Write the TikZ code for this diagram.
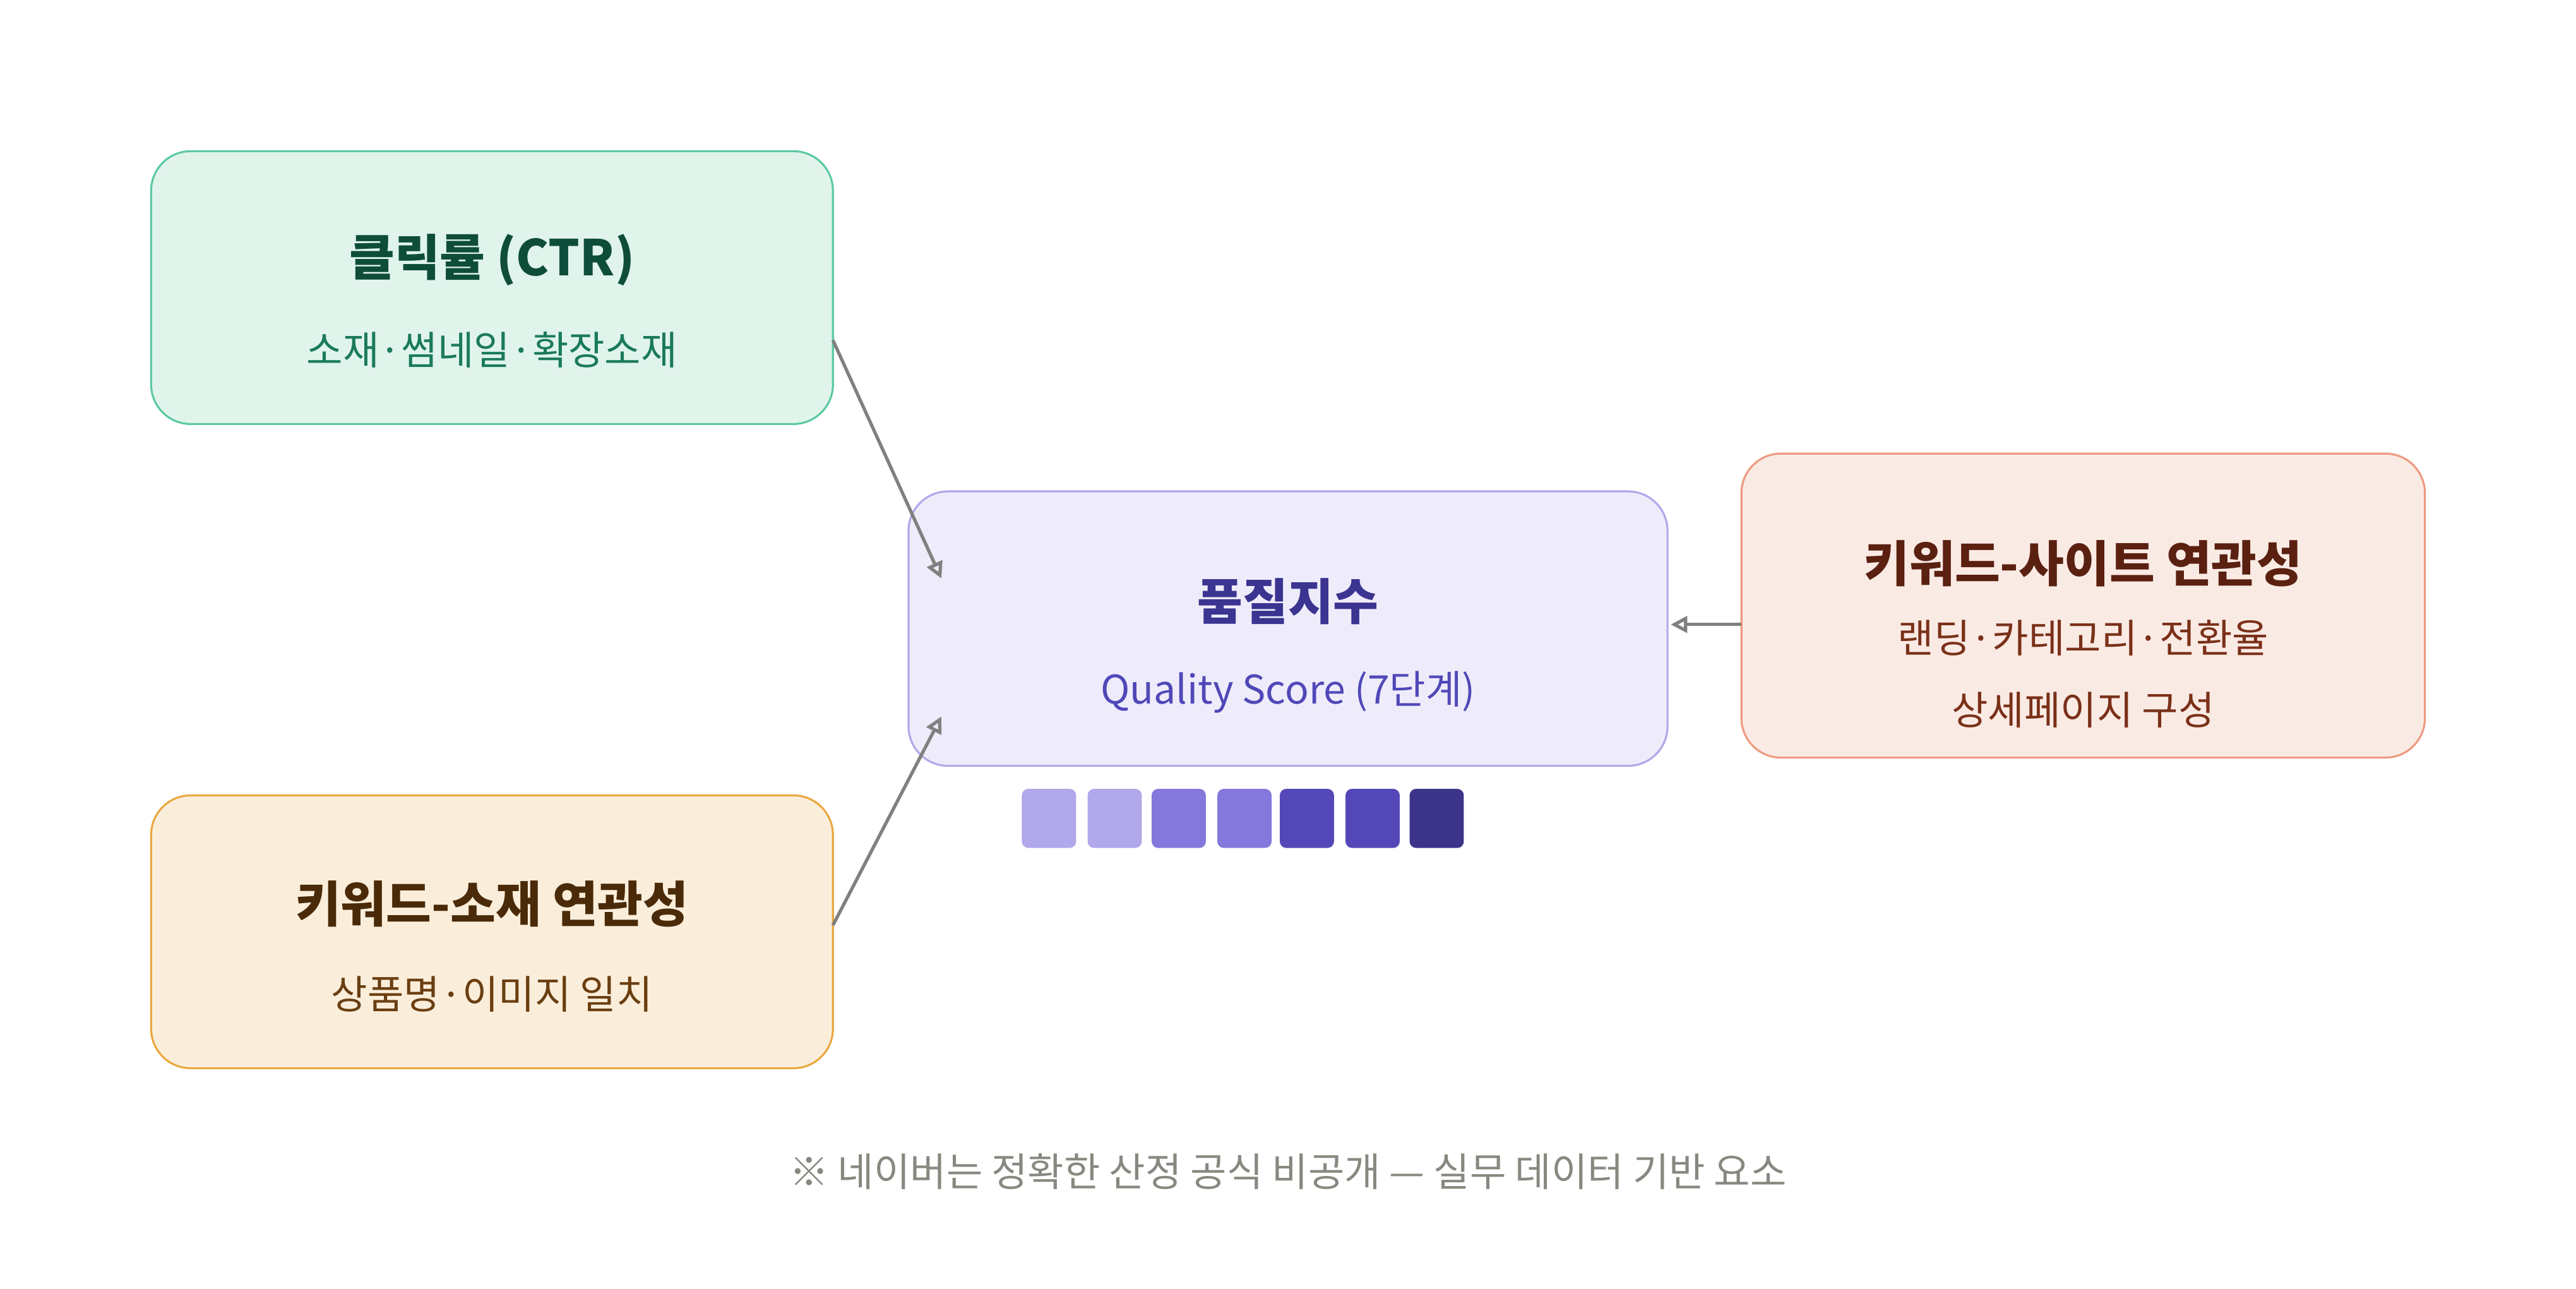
\documentclass[tikz,border=0pt]{standalone}
\usepackage{fontspec}
\setmainfont{Noto Sans CJK KR}
\usetikzlibrary{arrows.meta}
\definecolor{gF}{HTML}{E0F4EC}\definecolor{gD}{HTML}{5CC9A0}\definecolor{gT}{HTML}{0E4D3A}\definecolor{gS}{HTML}{1A7A5A}
\definecolor{cF}{HTML}{EEECFB}\definecolor{cD}{HTML}{B0A8E8}\definecolor{cT}{HTML}{3B3490}\definecolor{cS}{HTML}{5048B8}
\definecolor{rF}{HTML}{FAEAE4}\definecolor{rD}{HTML}{EE9A80}\definecolor{rT}{HTML}{5A2010}\definecolor{rS}{HTML}{7A3018}
\definecolor{oF}{HTML}{FAEEDB}\definecolor{oD}{HTML}{EBA840}\definecolor{oT}{HTML}{4A2A08}\definecolor{oS}{HTML}{6A3E10}
\definecolor{q1}{HTML}{B0A8EA}\definecolor{q2}{HTML}{8478DC}\definecolor{q3}{HTML}{5448B8}\definecolor{q4}{HTML}{3C348A}
\definecolor{ar}{HTML}{808080}\definecolor{ft}{HTML}{888880}
\begin{document}
\begin{tikzpicture}[x=0.5pt,y=-0.5pt,
 card/.style={rounded corners=12pt,line width=0.6pt},
 ttl/.style={font=\bfseries\fontsize{15}{18}\selectfont},
 sub/.style={font=\fontsize{12}{14}\selectfont},
 sq/.style={rounded corners=2pt},
 arr/.style={draw=ar,line width=1pt,-{Stealth[length=5pt,width=5pt,inset=0pt,open]}}]
\useasboundingbox[fill=white] (0,0) rectangle (1568,784);
\draw[card,fill=gF,draw=gD] (92,92) rectangle (507,258);
\draw[card,fill=cF,draw=cD] (553,299) rectangle (1015,466);
\draw[card,fill=rF,draw=rD] (1060,276) rectangle (1476,461);
\draw[card,fill=oF,draw=oD] (92,484) rectangle (507,650);
\node[ttl,text=gT] (gt) at (299.5,158) {클릭률 (CTR)};
\node[sub,text=gS] (gs) at (299.5,213) {소재·썸네일·확장소재};
\node[ttl,text=cT] (ct) at (784,366) {품질지수};
\node[sub,text=cS] (cs) at (784,421) {Quality Score (7단계)};
\node[ttl,text=rT] (rt) at (1268,343) {키워드-사이트 연관성};
\node[sub,text=rS] (rs1) at (1268,388) {랜딩·카테고리·전환율};
\node[sub,text=rS] (rs2) at (1268,432) {상세페이지 구성};
\node[ttl,text=oT] (ot) at (299.5,550) {키워드-소재 연관성};
\node[sub,text=oS] (os) at (299.5,605) {상품명·이미지 일치};
\foreach \x/\c in {622/q1,662/q1,701/q2,741/q2,779/q3,819/q3,858/q4}
  \fill[sq,\c] (\x,480) rectangle ++(33,36);
\coordinate (a1) at (507,207); \coordinate (b1) at (573,352);
\coordinate (a2) at (507,563); \coordinate (b2) at (573,436);
\coordinate (a3) at (1060,380); \coordinate (b3) at (1017,380);
\draw[arr] (a1) -- (b1);
\draw[arr] (a2) -- (b2);
\draw[arr] (a3) -- (b3);
\node[sub,text=ft] (f) at (784,713) {※ 네이버는 정확한 산정 공식 비공개 — 실무 데이터 기반 요소};
\end{tikzpicture}
\end{document}
